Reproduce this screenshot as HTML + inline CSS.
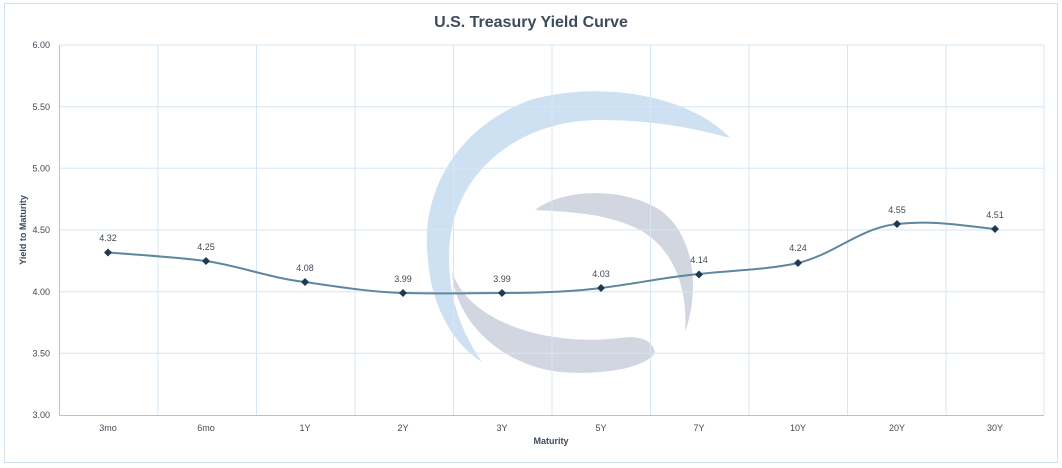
<!DOCTYPE html>
<html><head><style>
html,body{margin:0;padding:0;background:#fff;}
svg{display:block;font-family:"Liberation Sans",sans-serif;}
</style></head><body>
<svg width="1062" height="468" viewBox="0 0 1062 468">
<rect x="4.5" y="3.5" width="1053" height="459" fill="#fff" stroke="#cfe0f0"/>
<text x="531" y="27" text-anchor="middle" font-size="16" font-weight="bold" fill="#3d4b5c">U.S. Treasury Yield Curve</text>
<!-- watermark -->
<path d="M730,138 C690,95 600,80 530,100 C450,130 420,200 428,260 C432,310 455,345 482,362 C460,330 445,290 450,240 C458,170 520,120 600,120 C660,120 700,130 730,138 Z" fill="#c6dcf0" opacity="0.85"/>
<path d="M535,210 C560,190 620,185 660,210 C695,235 700,290 685,332 C688,290 675,250 640,230 C605,212 565,212 535,210 Z" fill="#c9cfdc" opacity="0.85"/>
<path d="M452,272 C455,320 500,365 560,372 C610,376 650,365 655,352 C652,340 640,335 620,338 C560,345 500,330 470,300 C460,290 455,280 452,272 Z" fill="#c9cfdc" opacity="0.85"/>
<g stroke="#d6e6f5" stroke-width="1">
<line x1="59.5" y1="45" x2="1044" y2="45"/>
<line x1="59.5" y1="106.7" x2="1044" y2="106.7"/>
<line x1="59.5" y1="168.3" x2="1044" y2="168.3"/>
<line x1="59.5" y1="230" x2="1044" y2="230"/>
<line x1="59.5" y1="291.7" x2="1044" y2="291.7"/>
<line x1="59.5" y1="353.3" x2="1044" y2="353.3"/>
<line x1="158" y1="45" x2="158" y2="415"/>
<line x1="256.5" y1="45" x2="256.5" y2="415"/>
<line x1="355" y1="45" x2="355" y2="415"/>
<line x1="453.5" y1="45" x2="453.5" y2="415"/>
<line x1="552" y1="45" x2="552" y2="415"/>
<line x1="650.5" y1="45" x2="650.5" y2="415"/>
<line x1="749" y1="45" x2="749" y2="415"/>
<line x1="847.5" y1="45" x2="847.5" y2="415"/>
<line x1="946" y1="45" x2="946" y2="415"/>
<line x1="1044" y1="45" x2="1044" y2="415"/>
</g>
<line x1="59.5" y1="45" x2="59.5" y2="415.5" stroke="#a9c6e6"/>
<line x1="59.5" y1="415.5" x2="1044" y2="415.5" stroke="#a9c6e6"/>
<g font-size="9" fill="#404a55" text-anchor="end">
<text x="50" y="48">6.00</text><text x="50" y="110">5.50</text><text x="50" y="171.5">5.00</text>
<text x="50" y="233">4.50</text><text x="50" y="295">4.00</text><text x="50" y="356.5">3.50</text><text x="50" y="418">3.00</text>
</g>
<g font-size="9" fill="#404a55" text-anchor="middle">
<text x="108" y="431">3mo</text><text x="206" y="431">6mo</text><text x="305" y="431">1Y</text><text x="403" y="431">2Y</text>
<text x="502" y="431">3Y</text><text x="601" y="431">5Y</text><text x="699" y="431">7Y</text><text x="798" y="431">10Y</text>
<text x="897" y="431">20Y</text><text x="995" y="431">30Y</text>
</g>
<text x="551" y="444" text-anchor="middle" font-size="9" font-weight="bold" fill="#3d4b5c">Maturity</text>
<text transform="translate(26,230) rotate(-90)" text-anchor="middle" font-size="9" font-weight="bold" fill="#3d4b5c">Yield to Maturity</text>
<path d="M108,252.5 C140,255 175,257 206,261 C240,266 270,278 305,282 C340,287 370,292 403,293 C440,294 470,293 502,293 C535,293 570,292 601,288 C635,284 665,277 699,274 C735,270 765,270 798,263 C835,254 860,228 897,224 C935,220 965,226 995,229" fill="none" stroke="#5e879f" stroke-width="2"/>
<g fill="#1e3a52">
<path d="M108,248.5l4,4-4,4-4-4z"/><path d="M206,257l4,4-4,4-4-4z"/><path d="M305,278l4,4-4,4-4-4z"/>
<path d="M403,289l4,4-4,4-4-4z"/><path d="M502,289l4,4-4,4-4-4z"/><path d="M601,284l4,4-4,4-4-4z"/>
<path d="M699,270.5l4,4-4,4-4-4z"/><path d="M798,259l4,4-4,4-4-4z"/><path d="M897,220l4,4-4,4-4-4z"/><path d="M995,225l4,4-4,4-4-4z"/>
</g>
<g font-size="9" fill="#404a55" text-anchor="middle">
<text x="108" y="241">4.32</text><text x="206" y="250">4.25</text><text x="305" y="271">4.08</text><text x="403" y="282">3.99</text>
<text x="502" y="282">3.99</text><text x="601" y="277">4.03</text><text x="699" y="263">4.14</text><text x="798" y="251">4.24</text>
<text x="897" y="213">4.55</text><text x="995" y="218">4.51</text>
</g>
</svg>
</body></html>
